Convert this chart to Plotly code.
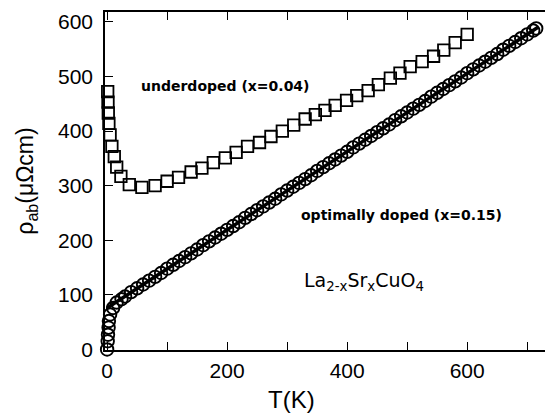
import plotly.graph_objects as go

# Underdoped (x=0.04) squares
under_T = [1, 1.5, 2, 3, 5, 8, 12, 16, 23, 37, 58, 80, 100, 119, 140, 158, 177, 197, 215, 234,
           254, 273, 292, 311, 330, 347, 363, 380, 399, 416, 435, 452, 472, 488, 505, 525, 544,
           561, 580, 600]
under_rho = [472, 453, 433, 414, 393, 372, 353, 334, 317, 302, 297, 300, 308, 315, 325, 332, 342,
             351, 361, 372, 379, 390, 400, 411, 422, 430, 438, 447, 456, 465, 474, 485, 497, 506,
             518, 527, 537, 548, 562, 577]

# Optimally doped (x=0.15) circles
opt_T = [0, 1, 1.5, 2.5, 3, 5, 10, 16, 24, 30, 40, 50, 60, 70, 80, 90, 100, 110, 120, 130, 140,
         150, 160, 170, 180, 190, 200, 210, 220, 230, 240, 250, 260, 270, 280, 290, 300, 310,
         320, 330, 340, 350, 360, 370, 380, 390, 400, 410, 420, 430, 440, 450, 460, 470, 480,
         490, 500, 510, 520, 530, 540, 550, 560, 570, 580, 590, 600, 610, 620, 630, 640, 650,
         660, 670, 680, 690, 700, 710, 715]
opt_rho = [0, 15, 27, 40, 52, 64, 76, 86, 92, 97, 105, 112, 119, 126, 133, 140, 148, 155, 162,
           169, 176, 183, 191, 198, 205, 212, 219, 226, 233, 241, 248, 255, 262, 269, 276, 284,
           291, 298, 305, 312, 319, 327, 334, 341, 348, 355, 362, 370, 377, 384, 391, 398, 405,
           412, 420, 427, 434, 441, 448, 455, 463, 470, 477, 484, 491, 498, 506, 513, 520, 527,
           534, 541, 549, 556, 563, 570, 577, 584, 588]

# Linear fit line
fit_T = [0, 718]
fit_rho = [76, 590]

x_major = [0, 200, 400, 600]
y_major = [0, 100, 200, 300, 400, 500, 600]

fig = go.Figure()
fig.add_trace(go.Scatter(x=fit_T, y=fit_rho, mode="lines",
                         line=dict(color="black", width=3.5), cliponaxis=False,
                         showlegend=False))
fig.add_trace(go.Scatter(x=opt_T, y=opt_rho, mode="markers",
                         marker=dict(symbol="circle-open", size=12.5, color="black",
                                     line=dict(color="black", width=1.9)),
                         cliponaxis=False, showlegend=False))
fig.add_trace(go.Scatter(x=under_T, y=under_rho, mode="markers",
                         marker=dict(symbol="square-open", size=11.5, color="black",
                                     line=dict(color="black", width=1.8)),
                         cliponaxis=False, showlegend=False))

tickfont = dict(family="Liberation Sans, Arial, sans-serif", size=21, color="black")
annfont = dict(family="DejaVu Sans, sans-serif", size=14, color="black")

fig.update_layout(
    width=545, height=410,
    margin=dict(l=97, r=0, t=4, b=68),
    paper_bgcolor="white", plot_bgcolor="white",
    xaxis=dict(range=[-3.5, 743], tickvals=x_major, ticks="inside", ticklen=8,
               tickwidth=1.3, tickcolor="black", showline=True, linecolor="black",
               linewidth=1.5, mirror="ticks", showgrid=False, zeroline=False,
               tickfont=tickfont, ticklabelstandoff=1,
               minor=dict(dtick=100, tick0=0, ticks="inside", ticklen=8, tickwidth=1.3,
                          tickcolor="black", showgrid=False)),
    yaxis=dict(range=[-1, 618], tickvals=y_major, ticks="inside", ticklen=8,
               tickwidth=1.3, tickcolor="black", showline=True, linecolor="black",
               linewidth=1.5, showgrid=False, zeroline=False,
               tickfont=tickfont, ticklabelstandoff=6, automargin=False,
               title=dict(text="ρ<sub>ab</sub>(μΩcm)", standoff=18,
                          font=dict(family="Liberation Sans, Arial, sans-serif", size=23,
                                    color="black"))),
    annotations=[
        dict(x=308, y=-0.145, xref="x", yref="paper", text="T(K)", showarrow=False,
             font=dict(family="Liberation Sans, Arial, sans-serif", size=24, color="black"),
             xanchor="center", yanchor="middle"),
        dict(x=197, y=482, xref="x", yref="y", text="<b>underdoped (x=0.04)</b>",
             showarrow=False, font=annfont, xanchor="center", yanchor="middle"),
        dict(x=490, y=246, xref="x", yref="y", text="<b>optimally doped (x=0.15)</b>",
             showarrow=False, font=annfont, xanchor="center", yanchor="middle"),
        dict(x=325, y=124, xref="x", yref="y",
             text="La<sub>2-x</sub>Sr<sub>x</sub>CuO<sub>4</sub>",
             showarrow=False,
             font=dict(family="DejaVu Sans, sans-serif", size=19, color="black"),
             xanchor="left", yanchor="middle"),
    ],
)

fig.write_html("out.html")
